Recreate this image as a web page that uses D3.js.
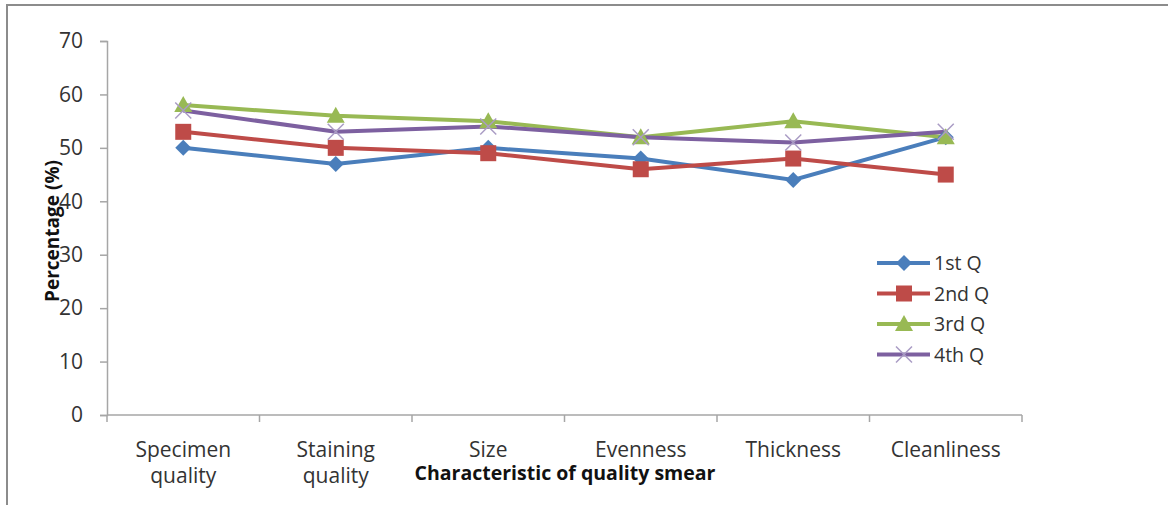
<!DOCTYPE html>
<html><head><meta charset="utf-8">
<script src="https://cdn.jsdelivr.net/npm/d3@7"></script>
<style>
body{margin:0;background:#fff;}
svg{font-family:"Open Sans",Lato,sans-serif;}
</style></head>
<body><svg id="c" width="1168" height="505"></svg>
<script>
const categories = [["Specimen","quality"],["Staining","quality"],["Size"],["Evenness"],["Thickness"],["Cleanliness"]];
const seriesNames = ["1st Q","2nd Q","3rd Q","4th Q"];
const q1 = [50,47,50,48,44,52];
const q2 = [53,50,49,46,48,45];
const q3 = [58,56,55,52,55,52];
const q4 = [57,53,54,52,51,53];
const yTicks = [0,10,20,30,40,50,60,70];
const colors = ["#4a7ebb","#be4b48","#98b954","#7d60a0"];
const allSeries = [q1,q2,q3,q4];

const svg = d3.select("#c");
svg.append("rect").attr("x",7).attr("y",5).attr("width",1175).attr("height",520)
  .attr("fill","#fff").attr("stroke","#8c8c8c").attr("stroke-width",2);

const pLeft=107, pRight=1022, pTop=41, pBottom=415;
const x = d3.scaleBand().domain(d3.range(categories.length)).range([pLeft,pRight]);
const y = d3.scaleLinear().domain([0,70]).range([pBottom,pTop]);

// y axis
const ya = svg.append("g").attr("transform",`translate(${pLeft},0)`)
  .call(d3.axisLeft(y).tickValues(yTicks).tickSize(7).tickPadding(17));
ya.select(".domain").attr("stroke","#a6a6a6").attr("stroke-width",1.5);
ya.selectAll(".tick line").attr("stroke","#a6a6a6").attr("stroke-width",1.5);
ya.selectAll(".tick text").attr("font-size",21).attr("fill","#333").attr("font-family","Open Sans");

// x axis
const xa = svg.append("g").attr("transform",`translate(0,${pBottom})`);
xa.append("line").attr("x1",pLeft).attr("x2",pRight).attr("stroke","#a6a6a6").attr("stroke-width",1.5);
const edges = d3.range(categories.length+1).map(i => i<categories.length ? x(i) : x(i-1)+x.bandwidth());
xa.selectAll(".tk").data(edges).join("line").attr("x1",d=>d).attr("x2",d=>d)
  .attr("y1",0).attr("y2",7).attr("stroke","#a6a6a6").attr("stroke-width",1.5);
categories.forEach((c,i)=>{
  const t = xa.append("text").attr("x",x(i)+x.bandwidth()/2).attr("y",42)
    .attr("text-anchor","middle").attr("font-size",21).attr("fill","#333");
  c.forEach((ln,j)=>t.append("tspan").attr("x",x(i)+x.bandwidth()/2).attr("dy",j?26:0).text(ln));
});

// titles
svg.append("text").attr("x",565).attr("y",480).attr("text-anchor","middle")
  .attr("font-size",19.5).attr("font-weight","bold").attr("fill","#111").text("Characteristic of quality smear");
svg.append("text").attr("transform","translate(59,231) rotate(-90)").attr("text-anchor","middle")
  .attr("font-size",19).attr("font-weight","bold").attr("fill","#111").text("Percentage (%)");

// lines
const cx = i => x(i)+x.bandwidth()/2;
const lineGen = d3.line().x((d,i)=>cx(i)).y(d=>y(d));
function marker(g, k, px, py){
  const c = colors[k];
  if(k===0) g.append("path").attr("d",`M${px},${py-8}L${px+8},${py}L${px},${py+8}L${px-8},${py}Z`).attr("fill",c);
  else if(k===1) g.append("rect").attr("x",px-8).attr("y",py-8).attr("width",16).attr("height",16).attr("fill",c);
  else if(k===2) g.append("path").attr("d",`M${px},${py-9}L${px+9},${py+7}L${px-9},${py+7}Z`).attr("fill",c);
  else g.append("path").attr("d",`M${px-8},${py-8}L${px+8},${py+8}M${px-8},${py+8}L${px+8},${py-8}`)
      .attr("stroke","#a99bc4").attr("stroke-width",1.5);
}
allSeries.forEach((s,k)=>{
  svg.append("path").datum(s).attr("d",lineGen).attr("fill","none")
    .attr("stroke",colors[k]).attr("stroke-width",4);
});
allSeries.forEach((s,k)=>{
  const g = svg.append("g");
  s.forEach((v,i)=>marker(g,k,cx(i),y(v)));
});

// legend
seriesNames.forEach((n,k)=>{
  const ly = 263 + k*30.5;
  const g = svg.append("g");
  g.append("line").attr("x1",877).attr("x2",930).attr("y1",ly).attr("y2",ly)
    .attr("stroke",colors[k]).attr("stroke-width",4);
  marker(g,k,904,ly);
  g.append("text").attr("x",934).attr("y",ly+7).attr("font-size",19.5).attr("fill","#333").text(n);
});
</script></body></html>
